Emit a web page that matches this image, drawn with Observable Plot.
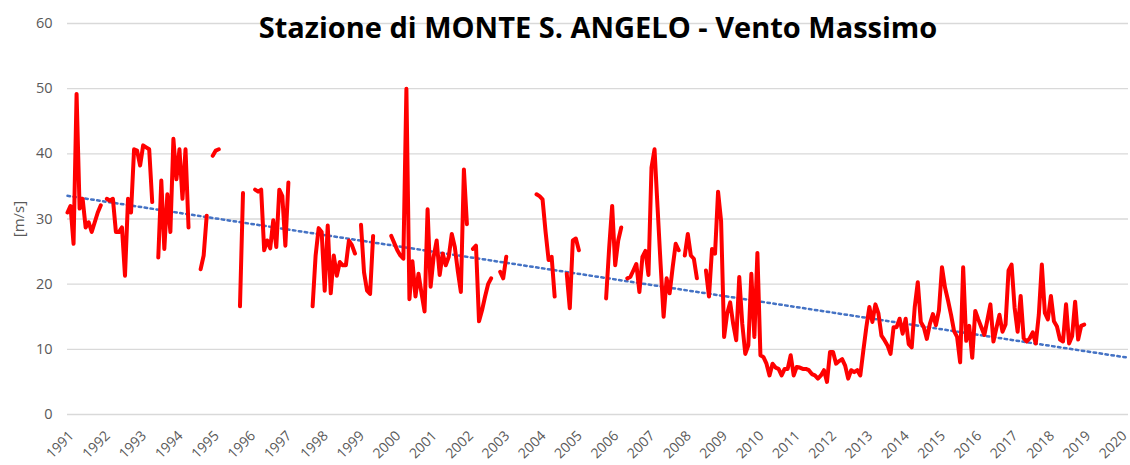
<!DOCTYPE html>
<html><head><meta charset="utf-8">
<script src="https://cdn.jsdelivr.net/npm/d3@7"></script>
<script src="https://cdn.jsdelivr.net/npm/@observablehq/plot@0.6"></script>
<style>
body{margin:0;background:#fff;}
#wrap{position:relative;width:1130px;height:465px;}
#title{position:absolute;top:7px;left:0;width:1196px;text-align:center;font:bold 29px "Open Sans",sans-serif;color:#000;}
</style></head><body>
<div id="wrap"><div id="title"></div></div>
<script>
// Monthly maximum wind [m/s], Jan..Dec of each year (null = missing)
const v1991 = [31.0, 32.0, 26.2, 49.2, 31.6, 33.1, 28.7, 29.5, 28.0, 29.5, 31.0, 32.1];
const v1992 = [null, 33.1, 32.8, 33.1, 28.0, 28.0, 28.7, 21.3, 33.1, 31.0, 40.7, 40.5];
const v1993 = [38.2, 41.3, 41.0, 40.7, 32.6, null, 24.1, 35.9, 25.4, 33.8, 28.0, 42.3];
const v1994 = [36.1, 40.7, 33.1, 40.7, 28.7, null, null, null, 22.3, 24.4, 30.5, null];
const v1995 = [39.7, 40.5, 40.7, null, null, null, null, null, null, 16.6, 34.0, null];
const v1996 = [null, null, 34.5, 34.2, 34.5, 25.2, 26.7, 25.5, 29.8, 25.7, 34.5, 33.5];
const v1997 = [25.9, 35.6, null, null, null, null, null, null, null, 16.6, 24.4, 28.6];
const v1998 = [28.0, 19.0, 29.0, 18.6, 24.4, 21.3, 23.4, 22.9, 22.9, 26.7, 26.0, 24.7];
const v1999 = [null, 29.1, 21.8, 19.0, 18.5, 27.4, null, null, null, null, null, 27.4];
const v2000 = [26.3, 25.2, 24.4, 23.9, 50.0, 17.7, 23.5, 18.1, 21.6, 18.6, 15.8, 31.5];
const v2001 = [19.6, 24.2, 26.7, 21.4, 24.7, 22.9, 24.2, 27.7, 25.7, 22.0, 18.8, 37.6];
const v2002 = [29.2, null, 25.4, 25.9, 14.3, 16.0, 18.1, 20.0, 20.9, null, null, 21.9];
const v2003 = [20.9, 24.2, null, null, null, null, null, null, null, null, null, 33.8];
const v2004 = [33.5, 33.0, 28.0, 23.7, 24.2, 18.1, null, null, null, 21.6, 16.3, 26.7];
const v2005 = [27.0, 25.2, null, null, null, null, null, null, null, null, 17.8, 25.5];
const v2006 = [32.0, 22.9, 26.7, 28.7, null, 20.9, 21.1, 22.1, 23.1, 18.8, 24.2, 25.1];
const v2007 = [21.4, 37.9, 40.7, 31.8, 23.1, 15.0, 20.9, 18.6, 22.6, 26.2, 25.2, null];
const v2008 = [24.4, 27.7, 24.4, 23.9, 20.9, null, null, 22.1, 18.1, 25.4, 24.7, 34.2];
const v2009 = [29.7, 11.9, 15.5, 17.2, 13.9, 11.4, 21.1, 13.9, 9.3, 10.6, 21.6, 11.9];
const v2010 = [24.8, 9.1, 8.8, 7.8, 6.0, 7.8, 7.2, 7.0, 6.0, 7.0, 7.0, 9.1];
const v2011 = [6.0, 7.3, 7.2, 7.0, 7.0, 6.8, 6.2, 6.0, 5.5, 6.0, 6.8, 5.0];
const v2012 = [9.6, 9.6, 7.8, 8.2, 8.5, 7.5, 5.5, 6.8, 6.5, 6.8, 6.0, 9.8];
const v2013 = [13.4, 16.5, 14.2, 16.9, 15.5, 12.1, 11.4, 10.6, 9.3, 13.4, 13.4, 14.7];
const v2014 = [12.4, 14.7, 10.8, 10.3, 16.5, 20.3, 14.2, 13.4, 11.6, 13.9, 15.4, 13.7];
const v2015 = [16.0, 22.6, 19.5, 17.5, 15.3, 12.8, 11.9, 8.0, 22.6, 11.3, 13.6, 8.7];
const v2016 = [15.9, 14.6, 13.4, 12.2, 14.5, 16.9, 11.2, 13.3, 15.3, 12.7, 13.8, 22.1];
const v2017 = [23.0, 16.4, 12.7, 18.2, 11.7, 11.2, 11.7, 12.6, 10.9, 15.3, 23.0, 15.6];
const v2018 = [14.6, 18.2, 14.3, 13.5, 11.5, 11.2, 16.9, 10.9, 12.0, 17.3, 11.5, 13.6];
const v2019 = [13.8];

const yearTicks = d3.range(1991, 2021);
const yTicks = [0, 10, 20, 30, 40, 50, 60];
const titleText = "Stazione di MONTE S. ANGELO - Vento Massimo";
const yLabel = "[m/s]";

const years = [v1991,v1992,v1993,v1994,v1995,v1996,v1997,v1998,v1999,v2000,v2001,v2002,v2003,v2004,v2005,v2006,v2007,v2008,v2009,v2010,v2011,v2012,v2013,v2014,v2015,v2016,v2017,v2018,v2019];
const data = years.flatMap((arr, i) => arr.map((v, j) => ({t: 1991 + i + j / 12, v})));

// linear trend (least squares) extended to the end of the axis
const pts = data.filter(d => d.v != null);
const mt = d3.mean(pts, d => d.t), mv = d3.mean(pts, d => d.v);
const b = d3.sum(pts, d => (d.t - mt) * (d.v - mv)) / d3.sum(pts, d => (d.t - mt) ** 2);
const a = mv - b * mt;
const xEnd = 2020.22;
const trend = [{t: 1991, v: a + b * 1991}, {t: xEnd, v: a + b * xEnd}];

document.getElementById("title").textContent = titleText;

const chart = Plot.plot({
  width: 1130, height: 465,
  marginTop: 23, marginBottom: 51, marginLeft: 67, marginRight: 2,
  style: {fontFamily: "'Open Sans', sans-serif", fontSize: "14.5px", color: "#595959", background: "transparent", overflow: "visible"},
  x: {domain: [1991, xEnd]},
  y: {domain: [0, 60]},
  marks: [
    Plot.gridY(yTicks, {stroke: "#d9d9d9", strokeOpacity: 1, strokeWidth: 1.3}),
    Plot.line(trend, {x: "t", y: "v", stroke: "#4472c4", strokeWidth: 2.5, strokeDasharray: "2.5,3.5"}),
    Plot.line(data, {x: "t", y: "v", stroke: "#ff0000", strokeWidth: 4, strokeLinejoin: "round", strokeLinecap: "round"}),
    Plot.axisY(yTicks, {tickSize: 0, tickPadding: 15, label: null}),
    Plot.axisX(yearTicks, {tickSize: 0, tickPadding: 19, tickRotate: -45, tickFormat: d => String(d), label: null, dx: 4, fontSize: 14}),
    Plot.text([yLabel], {frameAnchor: "left", dx: -48, rotate: -90, textAnchor: "middle", fill: "#595959", fontSize: 15})
  ]
});
document.getElementById("wrap").appendChild(chart);
</script>
</body></html>
